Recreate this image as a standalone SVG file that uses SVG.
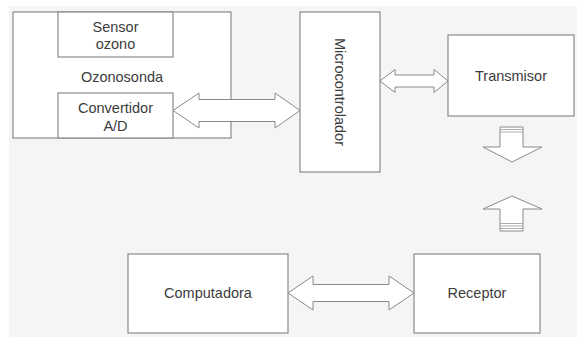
<svg xmlns="http://www.w3.org/2000/svg" width="577" height="337" viewBox="0 0 577 337">
<style>
.box{fill:#fff;stroke:#8a8a8a;stroke-width:1.2}
.arr{fill:#fff;stroke:#8a8a8a;stroke-width:1}
.stripe{stroke:#999;stroke-width:0.8}
text{font-family:"Liberation Sans",Arial,sans-serif;font-size:14.5px;fill:#3c3c3c;text-anchor:middle}
</style>
<rect x="0" y="0" width="577" height="337" fill="#fff"/>
<rect x="9" y="6" width="568" height="331" fill="#f5f5f5"/>
<g id="ozonosonda">
<rect class="box" x="13" y="12" width="218" height="126"/>
<text x="122" y="82">Ozonosonda</text>
</g>
<g id="sensor">
<rect class="box" x="58" y="12" width="115" height="45"/>
<text x="115.5" y="32">Sensor</text>
<text x="115.5" y="49">ozono</text>
</g>
<g id="convertidor">
<rect class="box" x="58" y="93" width="115" height="45"/>
<text x="115.5" y="113">Convertidor</text>
<text x="115.5" y="131">A/D</text>
</g>
<g id="microcontrolador">
<rect class="box" x="300" y="12" width="80" height="160"/>
<text transform="translate(335,92) rotate(90)" x="0" y="0">Microcontrolador</text>
</g>
<g id="transmisor">
<rect class="box" x="448" y="35" width="126" height="81"/>
<text x="511" y="81">Transmisor</text>
</g>
<g id="computadora">
<rect class="box" x="128" y="254" width="160" height="79"/>
<text x="208" y="298">Computadora</text>
</g>
<g id="receptor">
<rect class="box" x="414" y="254" width="126" height="79"/>
<text x="477" y="298">Receptor</text>
</g>
<g id="connectors">
<polygon class="arr" points="173,110.5 199,93 199,99.5 275,99.5 275,93 300,110.5 275,128 275,121.5 199,121.5 199,128"/>
<polygon class="arr" points="380,81 395,69.5 395,75 434,75 434,69.5 448,81 434,92.5 434,87 395,87 395,92.5"/>
<polygon class="arr" points="288,293 313,276 313,284.5 389,284.5 389,276 414,293 389,310 389,301.5 313,301.5 313,310"/>
<polygon class="arr" points="500,127 523,127 523,147 542,147 512,162 483,147 500,147"/>
<line class="stripe" x1="500" y1="129.5" x2="523" y2="129.5"/>
<line class="stripe" x1="500" y1="132" x2="523" y2="132"/>
<polygon class="arr" points="512,196 542,209 523,209 523,231 500,231 500,209 483,209"/>
<line class="stripe" x1="500" y1="223.5" x2="523" y2="223.5"/>
<line class="stripe" x1="500" y1="226" x2="523" y2="226"/>
<line class="stripe" x1="500" y1="228.5" x2="523" y2="228.5"/>
</g>
</svg>
